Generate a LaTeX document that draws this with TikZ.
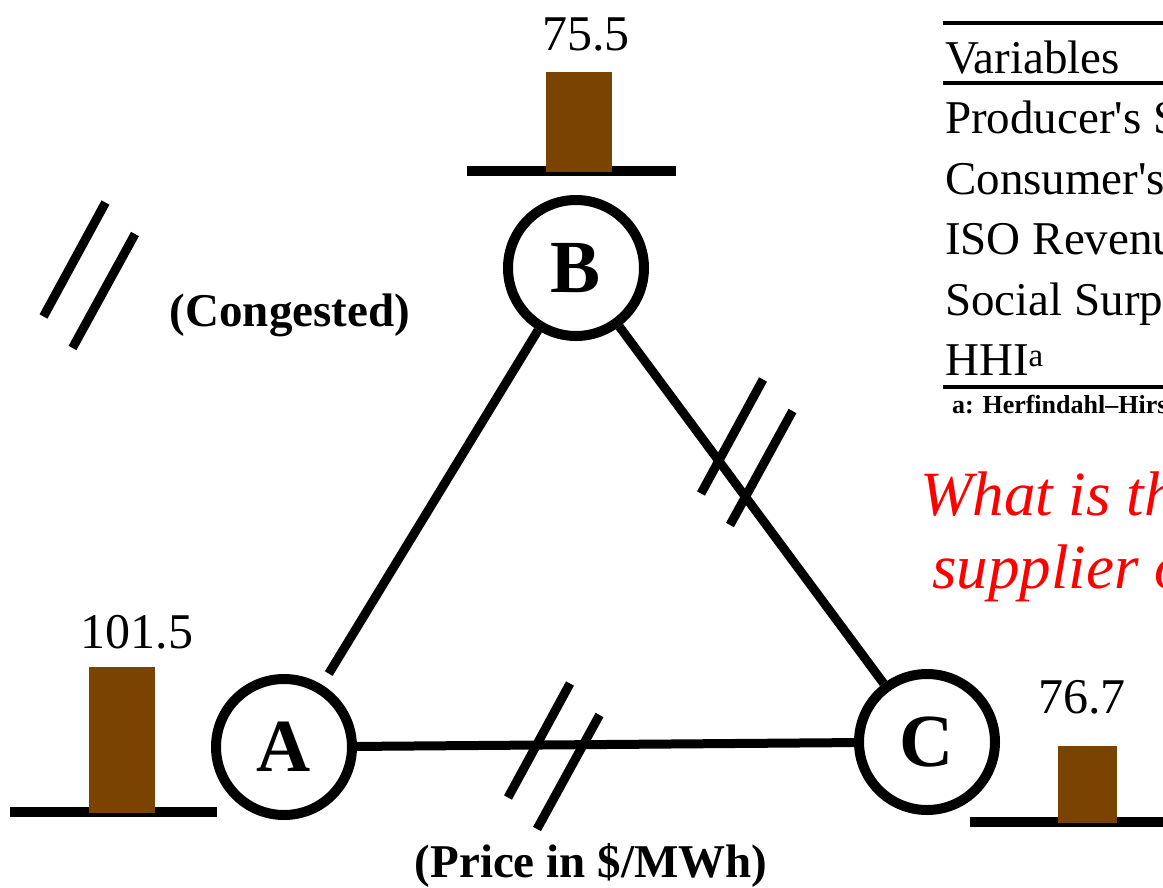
\documentclass[tikz,border=0pt]{standalone}
\usepackage{fontspec}
\setmainfont{Liberation Serif}
\usetikzlibrary{calc}
\definecolor{barbrown}{RGB}{122,68,0}
\tikzset{
  bus/.style={
    circle,
    draw=black,
    line width=10pt,
    fill=white,
    minimum size=136pt,
    inner sep=0pt,
    font=\fontsize{75}{75}\selectfont\bfseries
  },
  tline/.style={
    line width=9pt
  },
  cmark/.style={
    line width=9pt
  },
  ground/.style={
    line width=10pt
  },
  pricebar/.style={
    fill=barbrown
  },
  price/.style={
    font=\fontsize{50}{50}\selectfont,
    anchor=base
  },
  caption/.style={
    font=\fontsize{47}{47}\selectfont\bfseries,
    anchor=base
  },
  rowtext/.style={
    font=\fontsize{47}{47}\selectfont,
    anchor=base west,
    inner sep=0pt
  },
  tablerule/.style={
    line width=3.5pt
  },
  question/.style={
    font=\fontsize{63}{63}\selectfont\itshape,
    text=red,
    anchor=base west,
    inner sep=0pt
  },
  footnote/.style={
    font=\fontsize{26}{26}\selectfont\bfseries,
    anchor=base west,
    inner sep=0pt
  }
}

\begin{document}
\begin{tikzpicture}[x=1pt,y=-1pt]
  \useasboundingbox (0,0) rectangle (1163,887);
  \clip (0,0) rectangle (1163,887);

  % ------------------------------------------------------------------
  % Three-bus network
  % ------------------------------------------------------------------
  \node[bus] (A) at (284,747) {A};
  \node[bus] (B) at (576,268) {B};
  \node[bus] (C) at (927,742) {C};

  \draw[tline, shorten <=13pt] (A) -- (B);
  \draw[tline] (B) -- (C);
  \draw[tline] (A) -- (C);

  % congestion marks (legend, A--C, B--C)
  \foreach \cx/\cy in {74.5/259.5, 539/740.5, 732/436.5}{
    \draw[cmark] (\cx+31,\cy-57) -- (\cx-31,\cy+57);
    \draw[cmark] (\cx+60.5,\cy-25.5) -- (\cx-2,\cy+88.5);
  }
  \node[caption] (cong) at (290,326) {(Congested)};

  % ------------------------------------------------------------------
  % Nodal prices
  % ------------------------------------------------------------------
  \draw[ground] (10,812) -- (217,812);
  \fill[pricebar] (89,667) rectangle (155,813);
  \node[price] (pA) at (137,648) {101.5};

  \draw[ground] (467,171) -- (676,171);
  \fill[pricebar] (546,72) rectangle (612,172);
  \node[price] (pB) at (586,50) {75.5};

  \draw[ground] (970,822) -- (1163,822);
  \fill[pricebar] (1058,746) rectangle (1117,823);
  \node[price] (pC) at (1082,713) {76.7};

  \node[caption] (unit) at (591,877) {(Price in \$/MWh)};

  % ------------------------------------------------------------------
  % Table (cut at the right edge)
  % ------------------------------------------------------------------
  \draw[tablerule] (943,23) -- (1163,23);
  \node[rowtext] (hdr) at (945,73) {Variables};
  \draw[tablerule] (943,83) -- (1163,83);
  \foreach \txt [count=\i] in {Producer\textquotesingle s S, Consumer\textquotesingle s, ISO Revenu, Social Surp, HHI\textsuperscript{a}}
    \node[rowtext] (row\i) at (945,73+60.5*\i) {\txt};
  \draw[tablerule] (943,387) -- (1163,387);
  \node[footnote] (fn) at (952,413) {a: Herfindahl–Hirs};

  \node[question] (q1) at (920,515) {What is th};
  \node[question] (q2) at (932,588) {supplier o};
\end{tikzpicture}
\end{document}
